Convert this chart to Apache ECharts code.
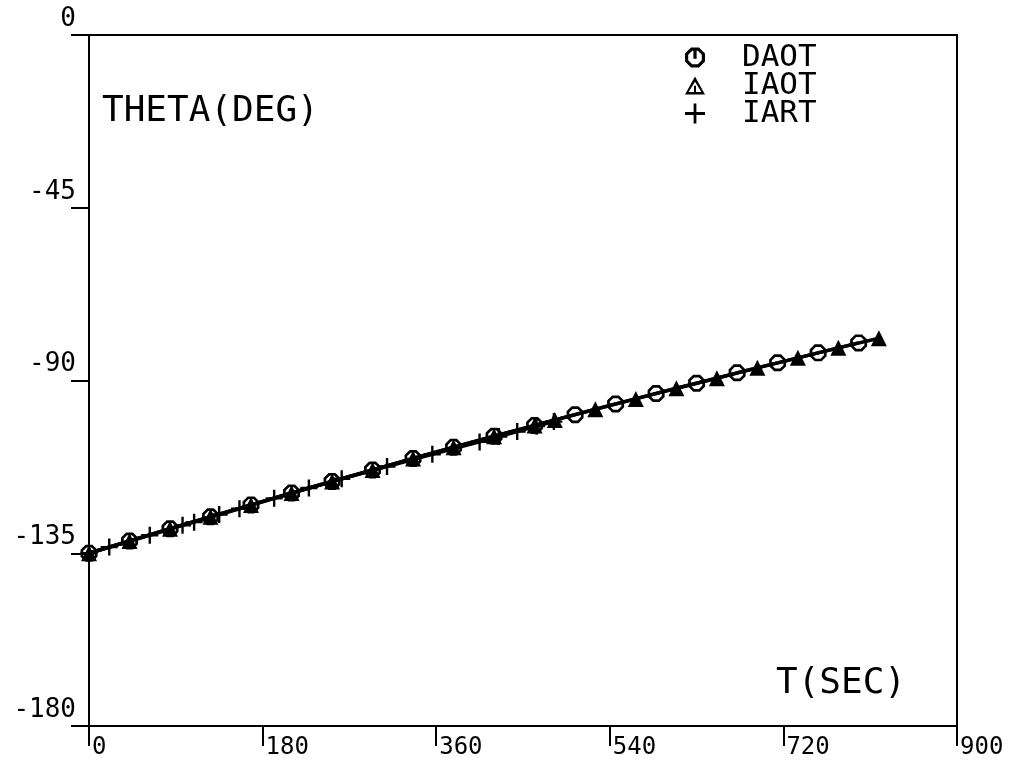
<!DOCTYPE html>
<html>
<head>
<meta charset="utf-8">
<script src="https://cdn.jsdelivr.net/npm/echarts@6/dist/echarts.min.js"></script>
<style>
  html, body { margin: 0; padding: 0; background: #fff; }
  #chart { width: 1019px; height: 770px; }
</style>
</head>
<body>
<div id="chart"></div>
<script>
// Pitch angle THETA (deg) against time T (sec) for three solutions.
const xTicks = [0, 180, 360, 540, 720, 900];
const yTicks = [-180, -135, -90, -45, 0];

const daotTime  = [0, 42, 84, 126, 168, 210, 252, 294, 336, 378, 420, 462, 504, 546, 588, 630, 672, 714, 756, 798];
const daotTheta = [-135.0, -131.8, -128.6, -125.5, -122.4, -119.3, -116.3, -113.3, -110.3, -107.4,
                   -104.5, -101.7, -98.9, -96.1, -93.4, -90.7, -88.0, -85.4, -82.8, -80.2];

const iaotTime  = [0, 42, 84, 126, 168, 210, 252, 294, 336, 378, 420, 462, 483, 525, 567, 609, 651, 693, 735, 777, 819];
const iaotTheta = [-135.0, -131.8, -128.6, -125.5, -122.4, -119.3, -116.3, -113.3, -110.3, -107.4,
                   -104.5, -101.7, -100.3, -97.5, -94.8, -92.0, -89.4, -86.7, -84.1, -81.5, -79.0];

const iartTime  = [0, 21, 63, 97, 109, 135, 156, 192, 228, 262, 309, 356, 405, 425, 444, 464, 482];
const iartTheta = [-135.0, -133.4, -130.3, -127.7, -126.9, -124.9, -123.4, -120.7, -118.0, -115.6,
                   -112.4, -109.2, -106.0, -104.6, -103.3, -101.9, -100.7];

const FONT = '"DejaVu Sans Mono", monospace';

// marker shapes
const ringPath = 'path://M30 0 L70 0 L100 30 L100 70 L70 100 L30 100 L0 70 L0 30 Z ' +
                 'M36 16 L16 36 L16 64 L36 84 L64 84 L84 64 L84 36 L64 16 Z';
const ringBarPath = ringPath + ' M42 16 L58 16 L58 56 L42 56 Z';
const triOpenPath = 'path://M50 0 L100 90 L0 90 Z M50 26 L18 78 L82 78 Z M45 46 L55 46 L55 78 L45 78 Z';
const plusPath = 'path://M43 0 L57 0 L57 43 L100 43 L100 57 L57 57 L57 100 L43 100 L43 57 L0 57 L0 43 L43 43 Z';

const pairs = (xs, ys) => xs.map((x, i) => [x, ys[i]]);

const chart = echarts.init(document.getElementById('chart'), null, { renderer: 'canvas' });

chart.setOption({
  animation: false,
  backgroundColor: '#fff',
  grid: {
    left: 89, right: 62, top: 35, bottom: 44,
    show: true, borderColor: '#000', borderWidth: 2, backgroundColor: 'transparent'
  },
  xAxis: {
    type: 'value', min: xTicks[0], max: xTicks[xTicks.length - 1], interval: 180,
    axisLine: { show: true, onZero: false, lineStyle: { color: '#000', width: 2 } },
    axisTick: { show: true, length: 20, lineStyle: { color: '#000', width: 2 } },
    splitLine: { show: false },
    axisLabel: {
      show: true, showMinLabel: true, showMaxLabel: true,
      color: '#000', fontFamily: FONT, fontSize: 24, margin: 10,
      align: 'left', padding: [0, 0, 0, 3], lineHeight: 24
    }
  },
  yAxis: {
    type: 'value', min: yTicks[0], max: yTicks[yTicks.length - 1], interval: 45,
    axisLine: { show: true, onZero: false, lineStyle: { color: '#000', width: 2 } },
    axisTick: { show: true, length: 18, lineStyle: { color: '#000', width: 2 } },
    splitLine: { show: false },
    axisLabel: {
      show: true, showMinLabel: true, showMaxLabel: true,
      color: '#000', fontFamily: FONT, fontSize: 26, margin: 13,
      verticalAlign: 'bottom', lineHeight: 26, padding: [0, 0, 3, 0]
    }
  },
  legend: {
    orient: 'vertical', left: 680, top: 37,
    itemWidth: 20, itemHeight: 20, itemGap: -3,
    textStyle: { color: '#000', fontFamily: FONT, fontSize: 31, padding: [0, 0, 0, 32], lineHeight: 26 },
    data: [
      { name: 'DAOT', icon: ringBarPath, itemStyle: { color: '#000' } },
      { name: 'IAOT', icon: triOpenPath, itemStyle: { color: '#000' } },
      { name: 'IART', icon: plusPath, itemStyle: { color: '#000' } }
    ]
  },
  graphic: [
    { type: 'text', left: 102, top: 94, style: { text: 'THETA(DEG)', fill: '#000', font: '36px ' + FONT } },
    { type: 'text', left: 776, top: 666, style: { text: 'T(SEC)', fill: '#000', font: '36px ' + FONT } }
  ],
  series: [
    {
      name: 'IART', type: 'line', data: pairs(iartTime, iartTheta),
      symbol: plusPath, symbolSize: 17, showAllSymbol: true,
      lineStyle: { color: '#000', width: 3.5 }, itemStyle: { color: '#000' }
    },
    {
      name: 'IAOT', type: 'line', data: pairs(iaotTime, iaotTheta),
      symbol: 'triangle', symbolSize: 16, showAllSymbol: true,
      lineStyle: { color: '#000', width: 3.5 }, itemStyle: { color: '#000' }
    },
    {
      name: 'DAOT', type: 'line', data: pairs(daotTime, daotTheta),
      symbol: ringPath, symbolSize: 17, showAllSymbol: true,
      lineStyle: { color: '#000', width: 3.5 }, itemStyle: { color: '#000' }
    }
  ]
});
</script>
</body>
</html>
